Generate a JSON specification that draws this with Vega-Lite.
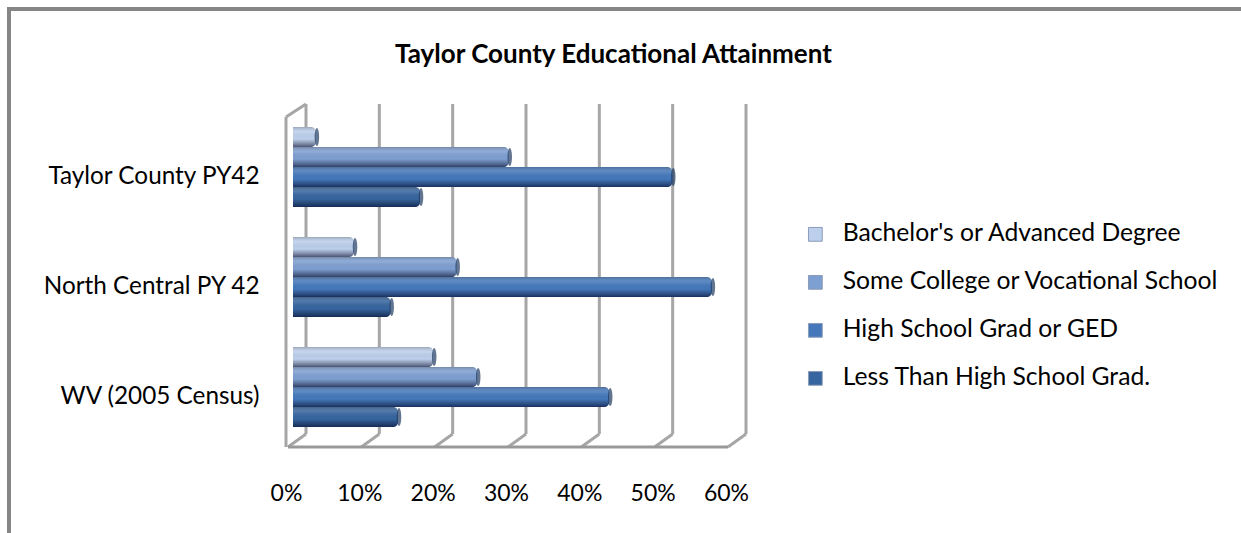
{
  "$schema": "https://vega.github.io/schema/vega-lite/v6.json",
  "autosize": "none",
  "padding": {"left": 9, "top": 9, "right": 0, "bottom": 0},
  "width": 1240,
  "height": 530,
  "background": "white",
  "config": {
    "view": {"stroke": "#868686", "strokeWidth": 4},
    "font": "Lato"
  },
  "title": {
    "text": "Taylor County Educational Attainment",
    "font": "Lato",
    "fontSize": 26,
    "fontWeight": "bold",
    "color": "#000000",
    "anchor": "start",
    "frame": "group",
    "dx": 386,
    "offset": -59
  },
  "datasets": {
    "attainment": [
      {"region": "Taylor County PY42", "level": "Bachelor's or Advanced Degree", "pct": 3.8},
      {"region": "Taylor County PY42", "level": "Some College or Vocational School", "pct": 30.1},
      {"region": "Taylor County PY42", "level": "High School Grad or GED", "pct": 52.4},
      {"region": "Taylor County PY42", "level": "Less Than High School Grad.", "pct": 18},
      {"region": "North Central PY 42", "level": "Bachelor's or Advanced Degree", "pct": 9},
      {"region": "North Central PY 42", "level": "Some College or Vocational School", "pct": 23},
      {"region": "North Central PY 42", "level": "High School Grad or GED", "pct": 57.8},
      {"region": "North Central PY 42", "level": "Less Than High School Grad.", "pct": 14},
      {"region": "WV (2005 Census)", "level": "Bachelor's or Advanced Degree", "pct": 19.8},
      {"region": "WV (2005 Census)", "level": "Some College or Vocational School", "pct": 25.8},
      {"region": "WV (2005 Census)", "level": "High School Grad or GED", "pct": 43.8},
      {"region": "WV (2005 Census)", "level": "Less Than High School Grad.", "pct": 15}
    ],
    "ticks": [{"t": 0}, {"t": 10}, {"t": 20}, {"t": 30}, {"t": 40}, {"t": 50}, {"t": 60}]
  },
  "resolve": {"scale": {"y": "independent"}},
  "layer": [
    {
      "description": "Back wall gridlines",
      "data": {"name": "ticks"},
      "mark": {"type": "rule", "stroke": "#a6a6a6", "strokeWidth": 3, "xOffset": 18, "yOffset": -13, "y2Offset": -13},
      "encoding": {
        "x": {
          "field": "t", "type": "quantitative",
          "scale": {"domain": [0, 60], "range": [279, 719]},
          "axis": {
            "values": [0, 10, 20, 30, 40, 50, 60],
            "format": ".0f",
            "labelExpr": "datum.label + '%'",
            "title": null, "domain": false, "ticks": false, "grid": false,
            "labelFont": "Lato", "labelFontSize": 23, "labelColor": "#000000",
            "labelPadding": 0, "offset": -46, "labelBaseline": "middle", "labelFlush": false, "labelOffset": -2
          }
        },
        "y": {"datum": 0, "type": "quantitative", "scale": {"domain": [0, 1], "range": [438, 108]}, "axis": null},
        "y2": {"datum": 1}
      }
    },
    {
      "description": "Floor slants joining front and back",
      "data": {"name": "ticks"},
      "mark": {"type": "rule", "stroke": "#a6a6a6", "strokeWidth": 3, "x2Offset": 18, "y2Offset": -13},
      "encoding": {
        "x": {"field": "t", "type": "quantitative"},
        "x2": {"field": "t"},
        "y": {"datum": 0, "type": "quantitative", "scale": {"domain": [0, 1], "range": [438, 108]}, "axis": null},
        "y2": {"datum": 0}
      }
    },
    {
      "description": "Front floor edge",
      "data": {"values": [{"a": 0, "b": 60}]},
      "mark": {"type": "rule", "stroke": "#999999", "strokeWidth": 3},
      "encoding": {
        "x": {"field": "a", "type": "quantitative"},
        "x2": {"field": "b"},
        "y": {"datum": 0, "type": "quantitative", "scale": {"domain": [0, 1], "range": [438, 108]}, "axis": null}
      }
    },
    {
      "description": "Front left wall edge",
      "data": {"values": [{"a": 0}]},
      "mark": {"type": "rule", "stroke": "#a6a6a6", "strokeWidth": 3, "xOffset": -2},
      "encoding": {
        "x": {"field": "a", "type": "quantitative"},
        "y": {"datum": 0, "type": "quantitative", "scale": {"domain": [0, 1], "range": [438, 108]}, "axis": null},
        "y2": {"datum": 1}
      }
    },
    {
      "description": "Top slant of the left wall",
      "data": {"values": [{"a": 0}]},
      "mark": {"type": "rule", "stroke": "#a6a6a6", "strokeWidth": 3, "xOffset": -2, "x2Offset": 18, "y2Offset": -13},
      "encoding": {
        "x": {"field": "a", "type": "quantitative"},
        "x2": {"field": "a"},
        "y": {"datum": 1, "type": "quantitative", "scale": {"domain": [0, 1], "range": [438, 108]}, "axis": null},
        "y2": {"datum": 1}
      }
    },
    {
      "description": "Bars in solid series colours",
      "data": {"name": "attainment"},
      "mark": {"type": "bar", "cornerRadius": 5, "xOffset": 5},
      "encoding": {
        "x": {"field": "pct", "type": "quantitative"},
        "y": {
          "field": "region", "type": "nominal", "sort": null,
          "scale": {"domain": ["Taylor County PY42", "North Central PY 42", "WV (2005 Census)"], "range": [108, 438], "paddingInner": 0, "paddingOuter": 0},
          "axis": {
            "title": null, "domain": false, "ticks": false, "grid": false,
            "labelFont": "Lato", "labelFontSize": 24.3, "labelColor": "#000000",
            "labelPadding": 0, "offset": -250, "labelAlign": "right", "labelOffset": 5, "labelLimit": 300
          }
        },
        "yOffset": {
          "field": "level", "type": "nominal",
          "scale": {
            "domain": ["Bachelor's or Advanced Degree", "Some College or Vocational School", "High School Grad or GED", "Less Than High School Grad."],
            "range": [10, 90], "paddingInner": 0, "paddingOuter": 0
          }
        },
        "color": {
          "field": "level", "type": "nominal",
          "scale": {
            "domain": ["Bachelor's or Advanced Degree", "Some College or Vocational School", "High School Grad or GED", "Less Than High School Grad."],
            "range": ["#bccfec", "#7e9fd2", "#4478bb", "#36659f"]
          },
          "legend": {
            "title": null, "orient": "none", "legendX": 794, "legendY": 213,
            "symbolType": "square", "symbolSize": 190, "symbolStrokeWidth": 1, "symbolStrokeColor": "#8a9bb5",
            "labelFont": "Lato", "labelFontSize": 24.7, "labelColor": "#000000",
            "rowPadding": 22, "labelOffset": 15, "labelLimit": 420
          }
        }
      }
    },
    {
      "description": "Cylinder shading over each bar",
      "data": {"name": "attainment"},
      "mark": {
        "type": "bar", "cornerRadius": 5, "xOffset": 5,
        "color": {
          "gradient": "linear", "x1": 0, "y1": 0, "x2": 0, "y2": 1,
          "stops": [
            {"offset": 0, "color": "rgba(90,90,90,0.35)"},
            {"offset": 0.25, "color": "rgba(255,255,255,0.12)"},
            {"offset": 0.6, "color": "rgba(0,0,0,0)"},
            {"offset": 0.85, "color": "rgba(0,0,30,0.35)"},
            {"offset": 1, "color": "rgba(0,0,30,0.6)"}
          ]
        }
      },
      "encoding": {
        "x": {"field": "pct", "type": "quantitative"},
        "y": {"field": "region", "type": "nominal", "sort": null, "scale": {"domain": ["Taylor County PY42", "North Central PY 42", "WV (2005 Census)"], "range": [108, 438], "paddingInner": 0, "paddingOuter": 0}, "axis": null},
        "yOffset": {"field": "level", "type": "nominal", "scale": {"domain": ["Bachelor's or Advanced Degree", "Some College or Vocational School", "High School Grad or GED", "Less Than High School Grad."], "range": [10, 90], "paddingInner": 0, "paddingOuter": 0}}
      }
    },
    {
      "description": "Dark elliptical end cap of each cylinder",
      "data": {"name": "attainment"},
      "mark": {"type": "point", "filled": true, "fill": "#1f3a63", "fillOpacity": 0.7, "stroke": null, "size": 324, "shape": "M -0.25 0 A 0.25 1 0 1 1 0.25 0 A 0.25 1 0 1 1 -0.25 0 Z", "xOffset": 1},
      "encoding": {
        "x": {"field": "pct", "type": "quantitative"},
        "y": {"field": "region", "type": "nominal", "sort": null, "scale": {"domain": ["Taylor County PY42", "North Central PY 42", "WV (2005 Census)"], "range": [108, 438], "paddingInner": 0, "paddingOuter": 0}, "axis": null},
        "yOffset": {"field": "level", "type": "nominal", "scale": {"domain": ["Bachelor's or Advanced Degree", "Some College or Vocational School", "High School Grad or GED", "Less Than High School Grad."], "range": [10, 90], "paddingInner": 0, "paddingOuter": 0}}
      }
    }
  ]
}
